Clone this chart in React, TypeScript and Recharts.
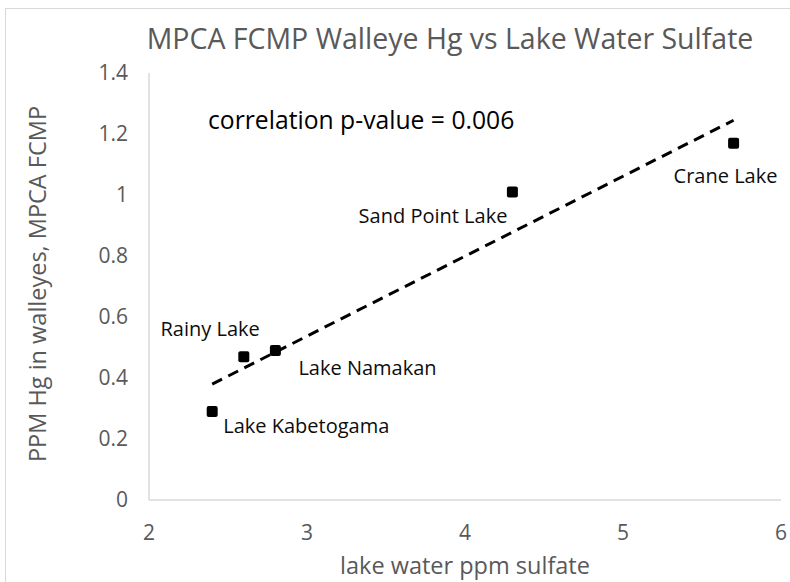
import React from 'react';
import { ScatterChart, Scatter, XAxis, YAxis, ReferenceLine } from 'recharts';

const lakes = ['Lake Kabetogama', 'Rainy Lake', 'Lake Namakan', 'Sand Point Lake', 'Crane Lake'];
const sulfatePpm = [2.4, 2.6, 2.8, 4.3, 5.7];
const walleyeHgPpm = [0.29, 0.47, 0.49, 1.01, 1.17];
const xTicks = [2, 3, 4, 5, 6];
const yTicks = [0, 0.2, 0.4, 0.6, 0.8, 1, 1.2, 1.4];
const trendX = [2.4, 5.7];
const trendY = [0.38, 1.245];

const data = lakes.map((name, i) => ({ name, x: sulfatePpm[i], y: walleyeHgPpm[i] }));
const trendSegment = trendX.map((x, i) => ({ x, y: trendY[i] }));

const FONT = '"Open Sans", sans-serif';
const GRAY = '#595959';

const labelPlacement: Record<string, { dx: number; dy: number; anchor: 'start' | 'end' | 'middle' }> = {
  'Lake Kabetogama': { dx: 11, dy: 14, anchor: 'start' },
  'Rainy Lake': { dx: 16, dy: -28, anchor: 'end' },
  'Lake Namakan': { dx: 23, dy: 17, anchor: 'start' },
  'Sand Point Lake': { dx: -5, dy: 24, anchor: 'end' },
  'Crane Lake': { dx: -60, dy: 33, anchor: 'start' },
};

const PointShape = (props: any) => {
  const { cx, cy, payload } = props;
  const p = labelPlacement[payload.name];
  return (
    <g>
      <rect x={cx - 5.5} y={cy - 5.5} width={11} height={11} rx={2} fill="#000" />
      <text
        x={cx + p.dx}
        y={cy + p.dy}
        dy="0.35em"
        textAnchor={p.anchor}
        fontFamily={FONT}
        fontSize={20}
        fill="#0d0d0d"
      >
        {payload.name}
      </text>
    </g>
  );
};

export default function App() {
  return (
    <div style={{ position: 'relative', width: 790, height: 582, overflow: 'hidden', background: '#fff' }}>
      <style>{'body{margin:0;overflow:hidden}'}</style>
      <div
        style={{
          position: 'absolute',
          left: 5,
          top: 8,
          width: 820,
          height: 620,
          border: '1px solid #d9d9d9',
          boxSizing: 'border-box',
        }}
      />
      <div style={{ position: 'absolute', left: 0, top: 0, width: 790, height: 582 }}>
        <ScatterChart width={790} height={582} margin={{ top: 73, right: 9, bottom: 52, left: 89 }}>
          <XAxis
            type="number"
            dataKey="x"
            domain={[2, 6]}
            ticks={xTicks}
            height={30}
            tickLine={false}
            tickSize={0}
            tickMargin={25}
            axisLine={{ stroke: '#d9d9d9', strokeWidth: 1.5 }}
            tick={{ fill: GRAY, fontSize: 21, fontFamily: FONT }}
            allowDataOverflow
          />
          <YAxis
            type="number"
            dataKey="y"
            domain={[0, 1.4]}
            ticks={yTicks}
            width={60}
            tickLine={false}
            tickSize={0}
            tickMargin={21}
            axisLine={{ stroke: '#d9d9d9', strokeWidth: 1.5 }}
            tick={{ fill: GRAY, fontSize: 21, fontFamily: FONT }}
            allowDataOverflow
          />
          <ReferenceLine
            segment={trendSegment}
            stroke="#000"
            strokeWidth={3}
            strokeDasharray="11 7"
            ifOverflow="visible"
          />
          <Scatter data={data} shape={PointShape} isAnimationActive={false} />
        </ScatterChart>
      </div>
      <div
        style={{
          position: 'absolute',
          left: 450,
          top: 18,
          transform: 'translateX(-50%)',
          fontFamily: FONT,
          fontSize: 28.5,
          color: GRAY,
          whiteSpace: 'nowrap',
          lineHeight: '40px',
        }}
      >
        MPCA FCMP Walleye Hg vs Lake Water Sulfate
      </div>
      <div
        style={{
          position: 'absolute',
          left: 208,
          top: 103,
          fontFamily: FONT,
          fontSize: 24.7,
          color: '#000',
          whiteSpace: 'nowrap',
          lineHeight: '34px',
        }}
      >
        correlation p-value = 0.006
      </div>
      <div
        style={{
          position: 'absolute',
          left: 465,
          top: 550,
          transform: 'translateX(-50%)',
          fontFamily: FONT,
          fontSize: 23.5,
          color: GRAY,
          whiteSpace: 'nowrap',
          lineHeight: '30px',
        }}
      >
        lake water ppm sulfate
      </div>
      <div
        style={{
          position: 'absolute',
          left: 37,
          top: 284,
          transform: 'translate(-50%, -50%) rotate(-90deg)',
          fontFamily: FONT,
          fontSize: 23.5,
          color: GRAY,
          whiteSpace: 'nowrap',
          lineHeight: '30px',
        }}
      >
        PPM Hg in walleyes, MPCA FCMP
      </div>
    </div>
  );
}
